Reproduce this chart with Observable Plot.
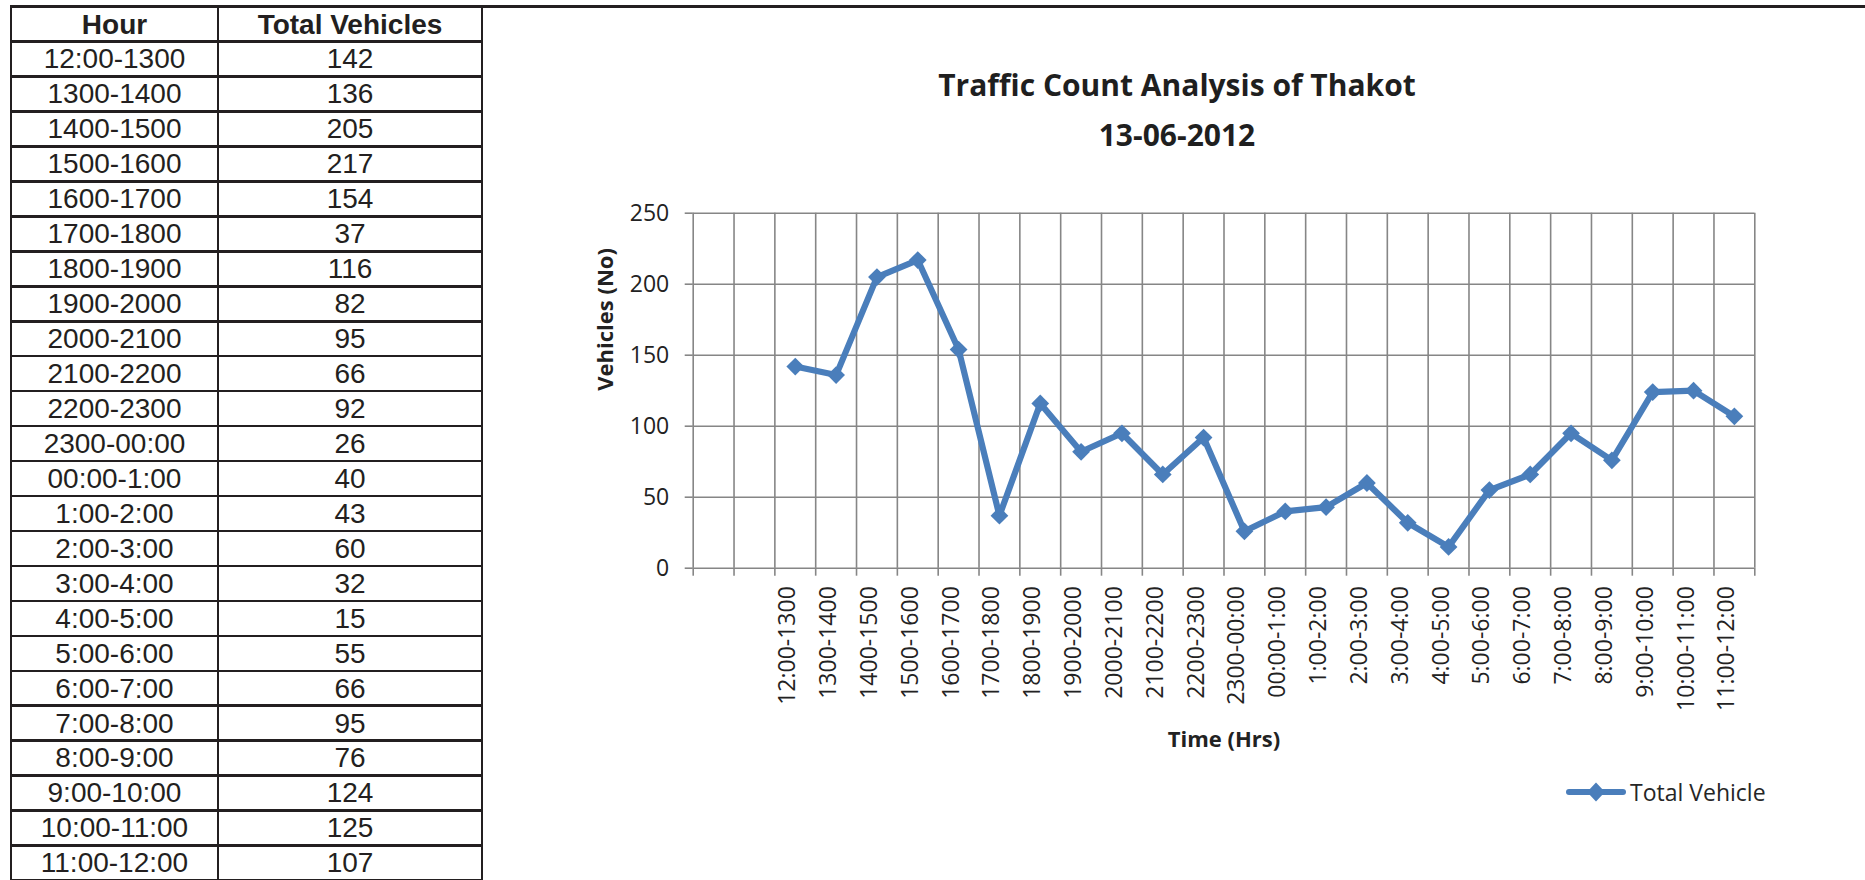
<!DOCTYPE html>
<html>
<head>
<meta charset="utf-8">
<script src="https://cdn.jsdelivr.net/npm/d3@7"></script>
<script src="https://cdn.jsdelivr.net/npm/@observablehq/plot@0.6"></script>
<style>
  html, body { margin: 0; padding: 0; background: #fff; width: 1865px; height: 880px; overflow: hidden; }
  #page { position: relative; width: 1865px; height: 880px; overflow: hidden; }
  .rule { position: absolute; background: #231f20; }
  .cell { position: absolute; text-align: center; font-family: "Liberation Sans", Arial, sans-serif;
          font-size: 28px; color: #231f20; white-space: nowrap; height: 20px; line-height: 20px; }
  .cell.head { font-weight: bold; }
  #title { position: absolute; left: 482px; width: 1390px; top: 60.4px; text-align: center;
           font-family: "Open Sans", sans-serif; font-weight: bold; font-size: 30px; line-height: 50px; color: #1f1f1f; }
  #chart { position: absolute; left: 560px; top: 170px; }
  #legend { position: absolute; left: 1566px; top: 778px; height: 28px; display: flex; align-items: center;
            font-family: "Open Sans", sans-serif; font-size: 23px; color: #262626; }
  #legend svg { margin-right: 4px; }
</style>
</head>
<body>
<div id="page"></div>
<script>
// ---- data ----
const hours = ["12:00-1300","1300-1400","1400-1500","1500-1600","1600-1700","1700-1800","1800-1900",
  "1900-2000","2000-2100","2100-2200","2200-2300","2300-00:00","00:00-1:00","1:00-2:00","2:00-3:00",
  "3:00-4:00","4:00-5:00","5:00-6:00","6:00-7:00","7:00-8:00","8:00-9:00","9:00-10:00","10:00-11:00","11:00-12:00"];
const totalVehicles = [142,136,205,217,154,37,116,82,95,66,92,26,40,43,60,32,15,55,66,95,76,124,125,107];
const yTicks = [0, 50, 100, 150, 200, 250];
const emptyLeadingSlots = 2;
const tableHeaders = ["Hour", "Total Vehicles"];
const titleLines = ["Traffic Count Analysis of Thakot", "13-06-2012"];
const yAxisTitle = "Vehicles (No)";
const xAxisTitle = "Time (Hrs)";
const seriesName = "Total Vehicle";

const blue = "#4A7EBB";
const gray = "#868686";
const page = d3.select("#page");

// ---- table (left) ----
const tLeft = 11, tTop = 6.7, rowH = 34.95, colX = [11, 218, 482], lineW = 2.5;
const tableRows = [tableHeaders, ...hours.map((h, i) => [h, String(totalVehicles[i])])];
tableRows.forEach((row, r) => {
  row.forEach((txt, c) => {
    page.append("div").attr("class", "cell" + (r === 0 ? " head" : ""))
      .style("left", colX[c] + "px").style("width", (colX[c + 1] - colX[c]) + "px")
      .style("top", (tTop + r * rowH + 7.8) + "px").text(txt);
  });
});
for (let k = 0; k <= tableRows.length; k++) {
  page.append("div").attr("class", "rule")
    .style("left", (tLeft - lineW / 2) + "px").style("top", (tTop + k * rowH - lineW / 2) + "px")
    .style("width", (colX[2] - colX[0] + lineW) + "px").style("height", lineW + "px");
}
colX.forEach(x => {
  page.append("div").attr("class", "rule")
    .style("left", (x - lineW / 2) + "px").style("top", (tTop - lineW / 2) + "px")
    .style("width", lineW + "px").style("height", "900px");
});
// top border of chart area
page.append("div").attr("class", "rule")
  .style("left", colX[2] + "px").style("top", (tTop - lineW / 2) + "px")
  .style("width", (1865 - colX[2]) + "px").style("height", lineW + "px");

// ---- title ----
page.append("div").attr("id", "title").html(titleLines.join("<br>"));

// ---- chart ----
const slotCount = emptyLeadingSlots + hours.length;
const rows = hours.map((hour, i) => ({hour, slot: emptyLeadingSlots + i + 0.5, vehicles: totalVehicles[i]}));
const boundaries = d3.range(slotCount + 1);

const chart = Plot.plot({
  width: 1240, height: 600,
  marginLeft: 132.7, marginRight: 45.7, marginTop: 42.7, marginBottom: 202.3,
  style: {fontFamily: "'Open Sans', sans-serif", fontSize: "23px", color: "#222", background: "transparent", overflow: "visible"},
  x: {type: "linear", domain: [0, slotCount], axis: null},
  y: {domain: [0, d3.max(yTicks)], axis: null},
  marks: [
    Plot.gridY(yTicks, {stroke: gray, strokeOpacity: 1, strokeWidth: 1.6}),
    Plot.gridX(boundaries, {stroke: gray, strokeOpacity: 1, strokeWidth: 1.6}),
    Plot.axisY(yTicks, {tickSize: 8, tickPadding: 16, stroke: gray, strokeWidth: 1.6, label: null, fontSize: 23}),
    Plot.axisX(boundaries, {tickSize: 8, tickFormat: () => "", stroke: gray, strokeWidth: 1.6, label: null}),
    Plot.text(rows, {x: "slot", text: "hour", frameAnchor: "bottom", rotate: -90, textAnchor: "end", dy: 18, fontSize: 23}),
    Plot.text([yAxisTitle], {frameAnchor: "left", rotate: -90, dx: -87, fontWeight: "bold", fontSize: 22}),
    Plot.text([xAxisTitle], {frameAnchor: "bottom", dy: 179, fontWeight: "bold", fontSize: 22}),
    Plot.line(rows, {x: "slot", y: "vehicles", stroke: blue, strokeWidth: 6.2, strokeLinejoin: "round"}),
    Plot.dot(rows, {x: "slot", y: "vehicles", symbol: "diamond2", r: 8, fill: blue, stroke: null})
  ]
});
chart.id = "chart";
document.getElementById("page").appendChild(chart);

// ---- legend ----
const legend = page.append("div").attr("id", "legend");
const sw = legend.append("svg").attr("width", 60).attr("height", 22);
sw.append("line").attr("x1", 3).attr("x2", 57).attr("y1", 11).attr("y2", 11)
  .attr("stroke", blue).attr("stroke-width", 6).attr("stroke-linecap", "round");
sw.append("path").attr("d", "M30,1.5 L39,11 L30,20.5 L21,11 Z").attr("fill", blue);
legend.append("span").text(seriesName);
</script>
</body>
</html>
